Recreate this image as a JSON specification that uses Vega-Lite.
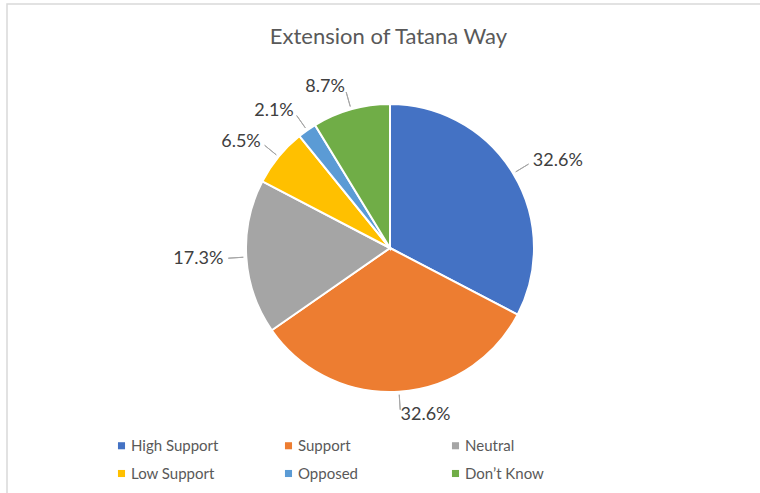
{
  "$schema": "https://vega.github.io/schema/vega-lite/v6.json",
  "width": 760,
  "height": 493,
  "autosize": {"type": "fit", "contains": "padding"},
  "padding": {"left": 7, "top": 4, "right": -10, "bottom": -10},
  "background": "white",
  "view": {"stroke": "#d9d9d9", "strokeWidth": 1.5, "fill": "white"},
  "config": {
    "view": {"stroke": "#d9d9d9", "strokeWidth": 1.5},
    "legend": {
      "orient": "none",
      "legendX": 107,
      "legendY": 434,
      "direction": "horizontal",
      "columns": 3,
      "gridAlign": "all",
      "symbolType": "square",
      "symbolSize": 50,
      "symbolStrokeWidth": 0,
      "labelFont": "Lato",
      "labelFontSize": 15,
      "labelColor": "#595959",
      "labelOffset": 2,
      "columnPadding": 62,
      "rowPadding": 12
    }
  },
  "title": {
    "text": "Extension of Tatana Way",
    "font": "Lato",
    "fontSize": 22,
    "fontWeight": "normal",
    "color": "#595959",
    "offset": -45,
    "anchor": "middle"
  },
  "data": {
    "values": [
      {"category": "High Support", "share": 0.326, "rank": 1},
      {"category": "Support", "share": 0.326, "rank": 2},
      {"category": "Neutral", "share": 0.173, "rank": 3},
      {"category": "Low Support", "share": 0.065, "rank": 4},
      {"category": "Opposed", "share": 0.021, "rank": 5},
      {"category": "Don’t Know", "share": 0.087, "rank": 6}
    ]
  },
  "encoding": {
    "theta": {"field": "share", "type": "quantitative", "stack": true},
    "order": {"field": "rank", "type": "quantitative"},
    "detail": {"field": "category", "type": "nominal"}
  },
  "layer": [
    {
      "mark": {"type": "arc", "radius": 144, "stroke": "white", "strokeWidth": 2, "x": 383, "y": 244},
      "encoding": {
        "color": {
          "field": "category",
          "type": "nominal",
          "sort": null,
          "scale": {
            "domain": ["High Support", "Support", "Neutral", "Low Support", "Opposed", "Don’t Know"],
            "range": ["#4472C4", "#ED7D31", "#A5A5A5", "#FFC000", "#5B9BD5", "#70AD47"]
          },
          "legend": {"title": null}
        }
      }
    },
    {
      "mark": {"type": "arc", "radius": 162, "radius2": 147, "padAngle": 3.14, "filled": false, "stroke": "#a6a6a6", "strokeWidth": 1, "x": 383, "y": 244}
    },
    {
      "mark": {
        "type": "text",
        "radius": 167,
        "x": 383,
        "y": 244,
        "font": "Lato",
        "fontSize": 18,
        "color": "#404040",
        "baseline": "middle",
        "align": {"expr": "(datum.share_start + datum.share_end) / 2 < 0.499 ? 'left' : 'right'"}
      },
      "encoding": {
        "text": {"field": "share", "type": "quantitative", "format": ".1%"}
      }
    }
  ]
}
